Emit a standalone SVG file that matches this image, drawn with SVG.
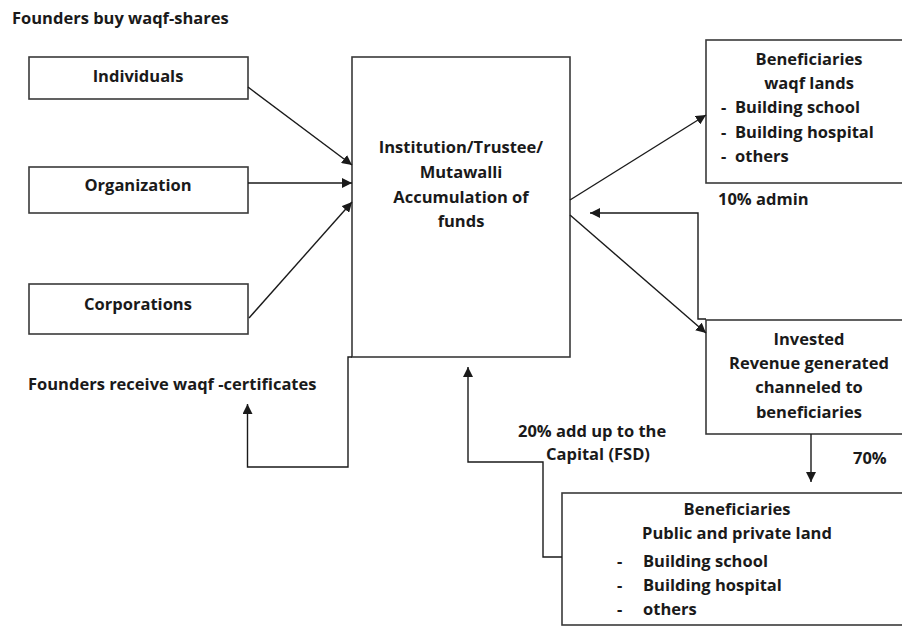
<svg xmlns="http://www.w3.org/2000/svg" width="902" height="626" viewBox="0 0 902 626">
<style>
.box{fill:#fff;stroke:#3a3a3a;stroke-width:1.6}
.t{font-family:"Open Sans","Liberation Sans",sans-serif;font-weight:bold;font-size:16.5px;fill:#1a1a1a}
.m{text-anchor:middle}
.c{fill:none;stroke:#1a1a1a;stroke-width:1.4}
</style>
<defs>
<marker id="ah" viewBox="0 0 10 10" refX="10" refY="5" markerWidth="10" markerHeight="10" markerUnits="userSpaceOnUse" orient="auto">
<path d="M0,0 L10,5 L0,10 z" fill="#1a1a1a"/>
</marker>
</defs>
<rect width="902" height="626" fill="#fff"/>
<text class="t" x="12" y="24">Founders buy waqf-shares</text>
<text class="t" x="28" y="390">Founders receive waqf -certificates</text>
<text class="t" x="718" y="205">10% admin</text>
<text class="t" x="518" y="437">20% add up to the</text>
<text class="t" x="546" y="460">Capital (FSD)</text>
<text class="t" x="853" y="464">70%</text>
<g id="individuals"><rect class="box" x="29" y="57" width="219" height="42"/><text class="t m" x="138" y="82">Individuals</text></g>
<g id="organization"><rect class="box" x="29" y="167" width="219" height="46"/><text class="t m" x="138" y="191">Organization</text></g>
<g id="corporations"><rect class="box" x="29" y="284" width="219" height="50"/><text class="t m" x="138" y="310">Corporations</text></g>
<g id="institution"><rect class="box" x="352" y="57" width="218" height="300"/>
<text class="t m" x="461" y="153">Institution/Trustee/</text>
<text class="t m" x="461" y="178">Mutawalli</text>
<text class="t m" x="461" y="203">Accumulation of</text>
<text class="t m" x="461" y="227">funds</text></g>
<g id="beneficiaries-waqf"><rect class="box" x="706" y="40" width="200" height="143"/>
<text class="t m" x="809" y="65">Beneficiaries</text>
<text class="t m" x="809" y="89">waqf lands</text>
<text class="t" x="721" y="113">-</text><text class="t" x="735" y="113">Building school</text>
<text class="t" x="721" y="138">-</text><text class="t" x="735" y="138">Building hospital</text>
<text class="t" x="721" y="162">-</text><text class="t" x="735" y="162">others</text></g>
<g id="invested"><rect class="box" x="706" y="320" width="200" height="114"/>
<text class="t m" x="809" y="345">Invested</text>
<text class="t m" x="809" y="369">Revenue generated</text>
<text class="t m" x="809" y="393">channeled to</text>
<text class="t m" x="809" y="418">beneficiaries</text></g>
<g id="beneficiaries-public"><rect class="box" x="562" y="493" width="344" height="132"/>
<text class="t m" x="737" y="515">Beneficiaries</text>
<text class="t m" x="737" y="539">Public and private land</text>
<text class="t" x="617" y="567">-</text><text class="t" x="643" y="567">Building school</text>
<text class="t" x="617" y="591">-</text><text class="t" x="643" y="591">Building hospital</text>
<text class="t" x="617" y="615">-</text><text class="t" x="643" y="615">others</text></g>
<g id="connectors">
<path class="c" d="M248,87 L352,165" marker-end="url(#ah)"/>
<path class="c" d="M248,183 L352,183" marker-end="url(#ah)"/>
<path class="c" d="M249,318 L352,202" marker-end="url(#ah)"/>
<path class="c" d="M570,200 L706,115" marker-end="url(#ah)"/>
<path class="c" d="M570,215 L706,333" marker-end="url(#ah)"/>
<path class="c" d="M706,319 H698 V213 H590" marker-end="url(#ah)"/>
<path class="c" d="M811,434 V482" marker-end="url(#ah)"/>
<path class="c" d="M352,357 H348 V467 H247.5 V404" marker-end="url(#ah)"/>
<path class="c" d="M562,557 H543 V462 H468 V367" marker-end="url(#ah)"/>
</g>
</svg>
